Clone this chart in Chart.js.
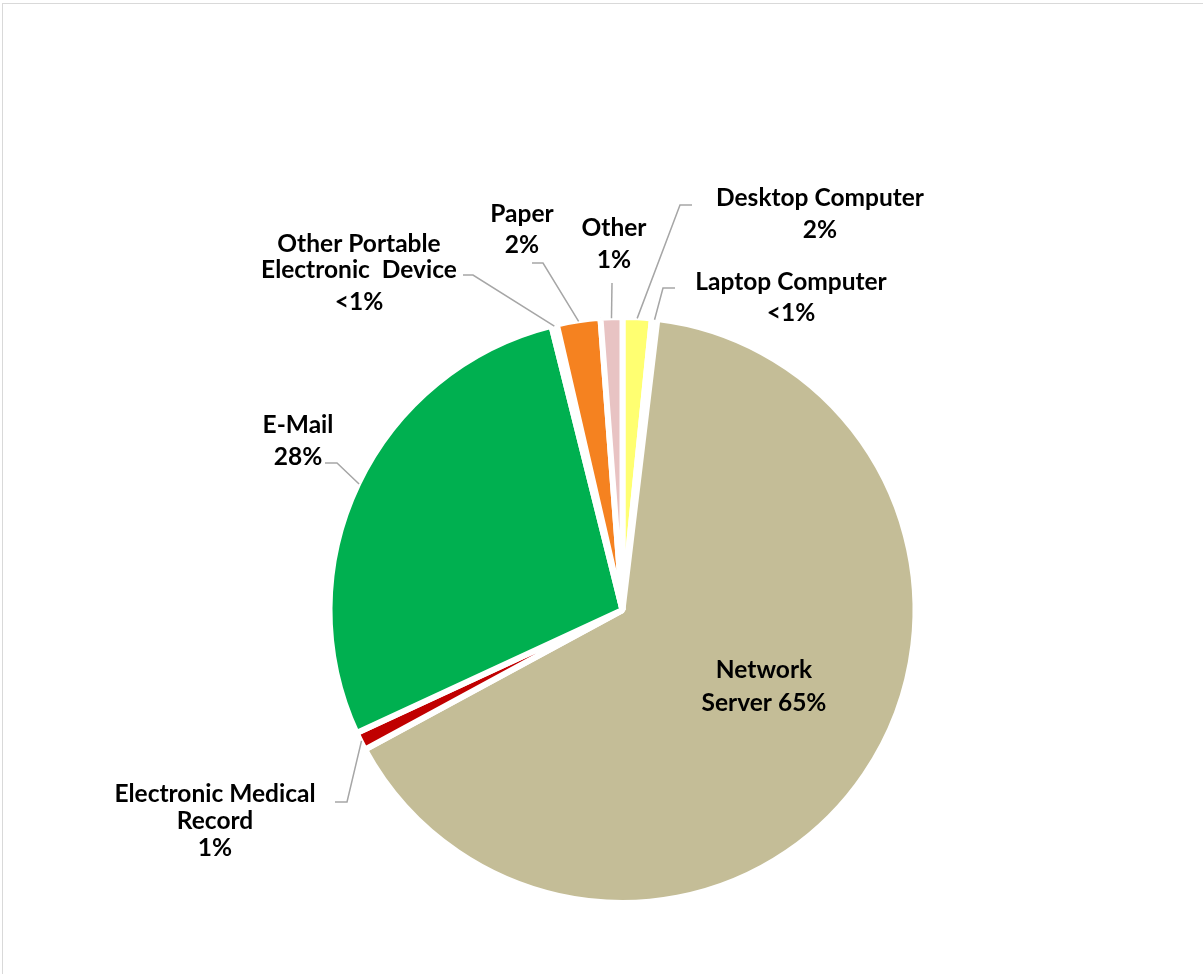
<!DOCTYPE html>
<html>
<head>
<meta charset="utf-8">
<script src="https://cdn.jsdelivr.net/npm/chart.js@4"></script>
<style>
  html, body { margin: 0; padding: 0; background: #fff; overflow: hidden; }
  #frame { position: absolute; left: 2px; top: 3px; width: 1400px; height: 1200px; border: 1px solid #d9d9d9; box-sizing: border-box; }
  #c { position: absolute; left: 0; top: 0; }
</style>
</head>
<body>
<div id="frame"></div>
<canvas id="c" width="1203" height="974"></canvas>
<script>
// Categories in drawing order (clockwise from 12 o'clock)
const categories = [
  "Desktop Computer", "Laptop Computer", "Network Server", "Electronic Medical Record",
  "E-Mail", "Other Portable Electronic Device", "Paper", "Other"
];
// Share of breaches (%)
const shares = [1.6, 0.3, 65.2, 1.0, 28.0, 0.3, 2.4, 1.2];
// Label texts shown on the chart
const labelLines = [
  ["Desktop Computer", "2%"],
  ["Laptop Computer", "<1%"],
  ["Network", "Server 65%"],
  ["Electronic Medical", "Record", "1%"],
  ["E-Mail", "28%"],
  ["Other Portable", "Electronic  Device", "<1%"],
  ["Paper", "2%"],
  ["Other", "1%"]
];
const colors = ["#FFFF71", "#DEEBF7", "#C4BD97", "#C00000", "#00B050", "#FFC000", "#F58220", "#E8C3C3"];

// Layout of labels: [x, y] for each line; leader elbow points (null = no leader)
const labelPos = [
  [[820, 198], [820, 230]],
  [[791, 282], [791, 313]],
  [[764, 670], [764, 703]],
  [[215, 794], [215, 821], [215, 848]],
  [[298, 425], [298, 457]],
  [[359, 244], [359, 270], [359, 302]],
  [[522, 214], [522, 245]],
  [[614, 228], [614, 260]]
];
const leaders = [
  [[692, 205], [680, 205]],
  [[675, 288], [663, 288]],
  null,
  [[335, 802], [347, 802]],
  [[325, 463], [337, 463]],
  [[463, 275], [473, 275]],
  [[532, 263], [543, 263]],
  [[612, 283], [612, 283]]
];

const labelPlugin = {
  id: 'labels',
  afterDatasetsDraw(chart) {
    const ctx = chart.ctx;
    const meta = chart.getDatasetMeta(0);
    ctx.save();
    // leader lines
    ctx.strokeStyle = '#a6a6a6';
    ctx.lineWidth = 1.5;
    meta.data.forEach((arc, i) => {
      const L = leaders[i];
      if (!L) return;
      const mid = (arc.startAngle + arc.endAngle) / 2;
      const ax = arc.x + Math.cos(mid) * (arc.outerRadius - 1);
      const ay = arc.y + Math.sin(mid) * (arc.outerRadius - 1);
      ctx.beginPath();
      ctx.moveTo(L[0][0], L[0][1]);
      ctx.lineTo(L[1][0], L[1][1]);
      ctx.lineTo(ax, ay);
      ctx.stroke();
    });
    // texts
    ctx.fillStyle = '#000';
    ctx.font = 'bold 24.5px Lato, "Open Sans", sans-serif';
    ctx.textAlign = 'center';
    ctx.textBaseline = 'middle';
    labelLines.forEach((lines, i) => {
      lines.forEach((t, j) => {
        const p = labelPos[i][j];
        ctx.fillText(t, p[0], p[1]);
      });
    });
    ctx.restore();
  }
};

new Chart(document.getElementById('c'), {
  type: 'pie',
  data: {
    labels: categories,
    datasets: [{
      data: shares,
      backgroundColor: colors,
      borderColor: '#ffffff',
      borderWidth: 6
    }]
  },
  options: {
    responsive: false,
    animation: false,
    events: [],
    radius: 293,
    layout: { padding: { left: 42, right: 0, top: 246, bottom: 0 } },
    plugins: {
      legend: { display: false },
      tooltip: { enabled: false },
      title: { display: false }
    }
  },
  plugins: [labelPlugin]
});
</script>
</body>
</html>
